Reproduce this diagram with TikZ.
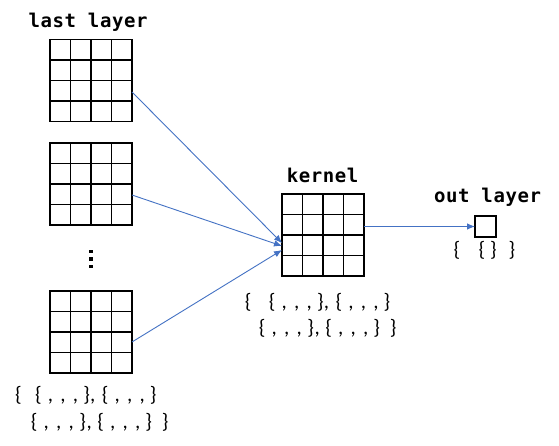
\documentclass[tikz,border=0pt]{standalone}
\usepackage{fontspec}
\usetikzlibrary{arrows.meta,calc}
\newfontfamily\titlefont[BoldFont={DejaVu Sans Mono Bold},LetterSpace=3]{DejaVu Sans Mono}
\newfontfamily\bracefont{Carlito}
\newcommand\glat[2]{\makebox[0pt]{#1}\hspace{#2pt}}
\definecolor{arrowblue}{HTML}{4472C4}
\begin{document}
\begin{tikzpicture}[x=1pt,y=-1pt,
  gridbox/.style={draw=black,line width=1.3pt,minimum width=82pt,minimum height=82pt,inner sep=0pt,outer sep=0pt},
  gridlinestyle/.style={draw=black,line width=1.3pt,xstep=20.5pt,ystep=20.5pt},
  cellbox/.style={draw=black,line width=1.3pt,minimum width=21pt,minimum height=21pt,inner sep=0pt,outer sep=0pt},
  title/.style={font=\titlefont\bfseries\fontsize{19}{22}\selectfont,anchor=base,inner sep=0pt},
  braces/.style={font=\bracefont\fontsize{21}{24}\selectfont,anchor=base west,inner sep=0pt},
  conn/.style={draw=arrowblue,line width=0.9pt,-{Latex[length=8pt,width=6.5pt]}},
  dotsq/.style={fill=black,minimum size=3.3pt,inner sep=0pt}]
\useasboundingbox (0,0) rectangle (559,446);
\fill[white] (0,0) rectangle (559,446);
% grids
\node[gridbox] (g1) at (91,80.5) {};
\node[gridbox] (g2) at (91,184) {};
\node[gridbox] (g3) at (91,332) {};
\node[gridbox] (k) at (323,235) {};
\foreach \g in {g1,g2,g3,k} {
  \draw[gridlinestyle,shift={(\g.north west)}] (0,0) grid (82,82);
}
\node[cellbox] (o) at (485.5,226.5) {};
% titles
\node[title] (t1) at (88,28) {last layer};
\node[title] (t2) at (322.5,182.7) {kernel};
\node[title] (t3) at (487.5,203) {out layer};
% vertical dots
\node[dotsq] (d1) at (91,251.7) {};
\node[dotsq] (d2) at (91,259) {};
\node[dotsq] (d3) at (91,266.3) {};
% brace labels
\node[braces] (b1) at ($(g3.south west)+(-31.7,28)$) {\glat{\{}{20}\glat{\{}{12}\glat{,}{12.5}\glat{,}{12.5}\glat{,}{11.2}\glat{\}}{6}\glat{,}{12.5}\glat{\{}{12}\glat{,}{12.5}\glat{,}{12.5}\glat{,}{11}\glat{\}}{0}};
\node[braces] (b2) at ($(g3.south west)+(-16,55)$) {\glat{\{}{12}\glat{,}{12.5}\glat{,}{12.5}\glat{,}{11.5}\glat{\}}{6.5}\glat{,}{11.5}\glat{\{}{12}\glat{,}{12.5}\glat{,}{12.5}\glat{,}{11}\glat{\}}{16.5}\glat{\}}{0}};
\node[braces] (b3) at ($(k.south west)+(-34,32)$) {\glat{\{}{24}\glat{\{}{12}\glat{,}{12.5}\glat{,}{12.5}\glat{,}{11.2}\glat{\}}{6}\glat{,}{12.5}\glat{\{}{12}\glat{,}{12.5}\glat{,}{12.5}\glat{,}{11}\glat{\}}{0}};
\node[braces] (b4) at ($(k.south west)+(-20,58)$) {\glat{\{}{12}\glat{,}{12.5}\glat{,}{12.5}\glat{,}{11.5}\glat{\}}{6.5}\glat{,}{11.5}\glat{\{}{12}\glat{,}{12.5}\glat{,}{12.5}\glat{,}{11}\glat{\}}{16.5}\glat{\}}{0}};
\node[braces] (b5) at (456.7,257) {\glat{\{}{25}\glat{\{}{11.6}\glat{\}}{18.4}\glat{\}}{0}};
% connectors
\draw[conn] ($(g1.east)+(0,11.5)$) -- ($(k.west)+(0,8)$);
\draw[conn] ($(g2.east)+(0,11)$) -- ($(k.west)+(0,11)$);
\draw[conn] ($(g3.east)+(0,10)$) -- ($(k.west)+(0,15)$);
\draw[conn] (k.east |- o.west) -- (o.west);
\end{tikzpicture}
\end{document}
